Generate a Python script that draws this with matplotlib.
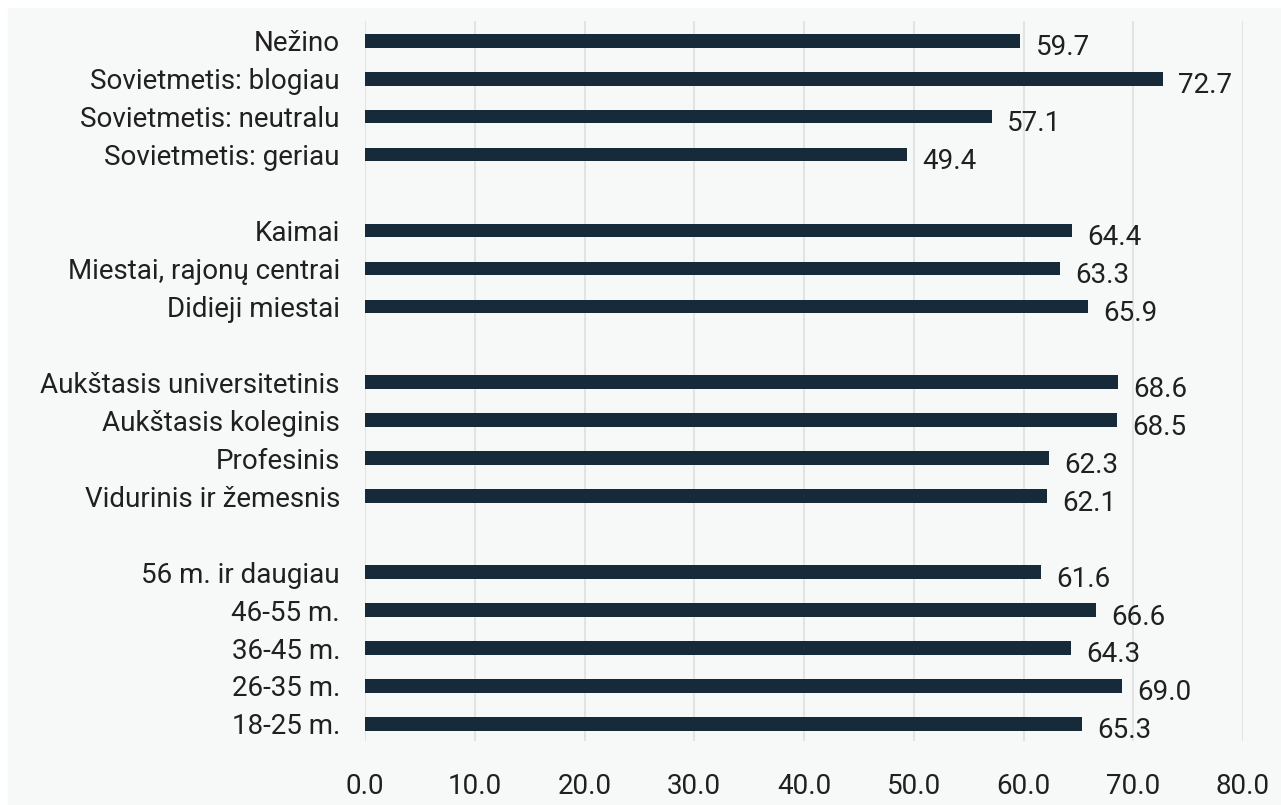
import numpy as np
import matplotlib.pyplot as plt
from matplotlib.patches import Rectangle

plt.rcParams['font.family'] = ['Roboto', 'DejaVu Sans']

# groups listed top to bottom
groups = [
    ['Nežino', 'Sovietmetis: blogiau', 'Sovietmetis: neutralu',
     'Sovietmetis: geriau'],
    ['Kaimai', 'Miestai, rajonų centrai', 'Didieji miestai'],
    ['Aukštasis universitetinis', 'Aukštasis koleginis', 'Profesinis',
     'Vidurinis ir žemesnis'],
    ['56 m. ir daugiau', '46-55 m.', '36-45 m.', '26-35 m.', '18-25 m.'],
]
values = [
    [59.7, 72.7, 57.1, 49.4],
    [64.4, 63.3, 65.9],
    [68.6, 68.5, 62.3, 62.1],
    [61.6, 66.6, 64.3, 69.0, 65.3],
]

bar_color = '#172a3a'
bg_color = '#f7f8f8'
text_color = '#202020'

labels, vals, pos = [], [], []
y = sum(len(g) for g in groups) + len(groups) - 2
for g_lab, g_val in zip(groups, values):
    for lab, v in zip(g_lab, g_val):
        labels.append(lab)
        vals.append(v)
        pos.append(y)
        y -= 1
    y -= 1  # blank slot between groups

fig = plt.figure(figsize=(12.81, 8.05), dpi=100, facecolor='white')
fig.patches.append(Rectangle((8 / 1281, 0), 1, 1 - 8 / 805,
                             transform=fig.transFigure, color=bg_color,
                             zorder=-10))
ax = fig.add_axes([365 / 1281, 1 - 741 / 805, (1243 - 365) / 1281,
                   (741 - 21) / 805])
ax.set_facecolor(bg_color)

ax.barh(pos, vals, height=0.36, color=bar_color, zorder=3)
for p, v in zip(pos, vals):
    ax.annotate(f'{v:.1f}', (v, p), xytext=(11, -5),
                textcoords='offset points', ha='left', va='center',
                fontsize=20, color=text_color)

ax.set_xlim(0, 80)
ax.set_ylim(-0.45, max(pos) + 0.52)
ax.set_xticks(np.arange(0, 81, 10))
ax.set_xticklabels([f'{t:.1f}' for t in np.arange(0, 81, 10)])
ax.set_yticks(pos)
ax.set_yticklabels(labels)
ax.tick_params(axis='both', length=0, labelsize=20, colors=text_color)
ax.tick_params(axis='x', pad=23)
ax.tick_params(axis='y', pad=18)
ax.grid(axis='x', color='#e2e3e3', lw=1.5, zorder=0)
for s in ax.spines.values():
    s.set_visible(False)

fig.savefig('out.png', dpi=100, facecolor=fig.get_facecolor())
